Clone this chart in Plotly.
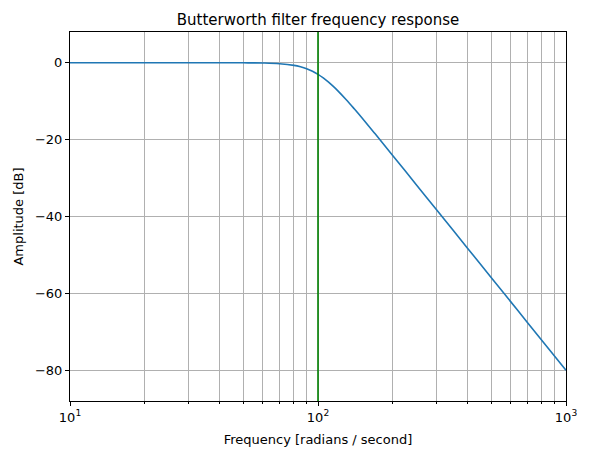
import plotly.graph_objects as go

# frequency response (rad/s, dB)
freq = [10, 20, 30, 40, 50, 60, 70, 80, 85, 90, 95, 100, 105, 110, 115, 120,
        130, 140, 150, 170, 200, 250, 300, 400, 500, 700, 1000]
amp_db = [0.0, 0.0, -0.0003, -0.003, -0.017, -0.072, -0.243, -0.673, -1.05,
          -1.556, -2.21, -3.01, -3.94, -4.97, -6.08, -7.24, -9.62, -11.98,
          -14.25, -18.50, -24.10, -31.84, -38.17, -48.17, -55.92, -67.61, -80.0]
cutoff = 100

x_major = [10, 100, 1000]
x_labels = ["10<sup>1</sup>", "10<sup>2</sup>", "10<sup>3</sup>"]
x_minor = [20, 30, 40, 50, 60, 70, 80, 90, 200, 300, 400, 500, 600, 700, 800, 900]
y_ticks = [0, -20, -40, -60, -80]
y_labels = ["0", "\u221220", "\u221240", "\u221260", "\u221280"]

fig = go.Figure()
fig.add_trace(go.Scatter(x=freq, y=amp_db, mode="lines",
                         line=dict(color="#1f77b4", width=1.6, shape="spline"),
                         showlegend=False))
fig.add_trace(go.Scatter(x=[cutoff, cutoff], y=[-88, 8], mode="lines",
                         line=dict(color="green", width=1.6), showlegend=False))

fig.update_layout(
    width=604, height=452,
    margin=dict(l=70, r=38, t=32, b=51),
    paper_bgcolor="white", plot_bgcolor="white",
    font=dict(family="DejaVu Sans", size=13, color="black"),
    title=dict(text="Butterworth filter frequency response", xref="paper", x=0.5,
               xanchor="center", y=0.945, yanchor="bottom", automargin=False,
               font=dict(size=15)),
    xaxis=dict(
        type="log", range=[1, 3], automargin=False,
        tickvals=x_major, ticktext=x_labels,
        ticks="outside", ticklen=4, tickcolor="black",
        showgrid=True, gridcolor="#b0b0b0", gridwidth=0.8,
        showline=True, linecolor="black", linewidth=1, mirror=True,
        zeroline=False,
        minor=dict(tickvals=x_minor, ticks="outside", ticklen=2, tickcolor="black",
                   showgrid=True, gridcolor="#b0b0b0", gridwidth=0.8),
        title=dict(text="Frequency [radians / second]", standoff=11, font=dict(size=13)),
    ),
    yaxis=dict(
        range=[-88, 8], automargin=False,
        tickvals=y_ticks, ticktext=y_labels,
        ticks="outside", ticklen=4, tickcolor="black",
        showgrid=True, gridcolor="#b0b0b0", gridwidth=0.8,
        showline=True, linecolor="black", linewidth=1, mirror=True,
        zeroline=False,
        title=dict(text="Amplitude [dB]", standoff=8, font=dict(size=13)),
    ),
)

fig.write_html("out.html", config={"displayModeBar": False},
               post_script="document.body.style.margin='0';")
